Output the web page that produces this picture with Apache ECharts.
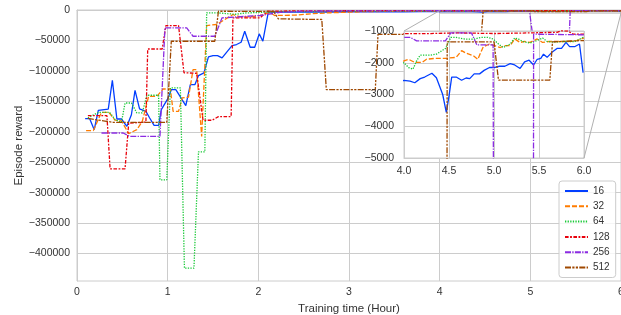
<!DOCTYPE html>
<html>
<head>
<meta charset="utf-8">
<script src="https://cdn.jsdelivr.net/npm/echarts@6/dist/echarts.min.js"></script>
<style>
  html, body { margin: 0; padding: 0; background: #fff; }
  #main { width: 621px; height: 315px; }
</style>
</head>
<body>
<div id="main"></div>
<script>
// batch sizes shown in the legend
const names = ['16', '32', '64', '128', '256', '512'];

// [training time (hour), episode reward]
const s16 = [[0.09,-178500],[0.14,-178500],[0.19,-196600],[0.235,-164800],[0.345,-162600],[0.39,-115500],[0.44,-179000],[0.49,-179000],[0.55,-191000],[0.6,-172000],[0.64,-132000],[0.69,-162500],[0.76,-166500],[0.8,-177000],[0.85,-189500],[0.9,-189500],[0.93,-163700],[1.0,-146000],[1.04,-130800],[1.09,-130800],[1.2,-157000],[1.25,-122600],[1.3,-122600],[1.34,-107700],[1.4,-103300],[1.45,-77000],[1.5,-74800],[1.55,-74800],[1.6,-78700],[1.71,-58400],[1.76,-56700],[1.81,-53000],[1.85,-34900],[1.91,-61200],[1.96,-61200],[2.01,-39200],[2.05,-51300],[2.11,-3600],[2.2,-3200],[2.4,-3400],[2.6,-3100],[2.8,-3300],[3.0,-2900],[3.2,-3000],[3.4,-2800],[3.6,-2900],[3.8,-2700],
  [4.0,-2555],[4.067,-2580],[4.12,-2630],[4.18,-2500],[4.23,-2450],[4.31,-2330],[4.36,-2470],[4.43,-3000],[4.47,-3560],[4.5,-3050],[4.53,-2450],[4.58,-2450],[4.64,-2550],[4.69,-2480],[4.73,-2500],[4.78,-2350],[4.84,-2350],[4.89,-2240],[4.95,-2150],[5.0,-2150],[5.06,-2110],[5.12,-2110],[5.18,-2030],[5.23,-2070],[5.29,-2180],[5.34,-1970],[5.39,-1920],[5.44,-2070],[5.48,-1890],[5.52,-1860],[5.55,-1730],[5.59,-1830],[5.64,-1680],[5.7,-1550],[5.75,-1550],[5.8,-1360],[5.84,-1490],[5.9,-1490],[5.95,-1410],[5.99,-2310]];
const s32 = [[0.1,-198000],[0.18,-198000],[0.27,-168000],[0.35,-168000],[0.42,-181000],[0.49,-182000],[0.57,-203000],[0.66,-196500],[0.72,-183000],[0.79,-141800],[0.88,-141800],[0.95,-129700],[1.03,-129700],[1.06,-166400],[1.12,-166400],[1.16,-144400],[1.23,-143000],[1.28,-97900],[1.32,-97900],[1.375,-207600],[1.43,-25500],[1.54,-23800],[1.6,-18400],[1.69,-10200],[1.72,-7400],[1.8,-11300],[1.91,-11300],[2.02,-9000],[2.13,-4600],[2.18,-9000],[2.4,-8500],[2.6,-6000],[2.8,-4500],[3.0,-3600],[3.2,-2500],[3.5,-2300],[3.8,-2100],
  [4.0,-1940],[4.05,-1890],[4.12,-1990],[4.2,-1990],[4.25,-1890],[4.35,-1860],[4.46,-1860],[4.58,-1830],[4.64,-1620],[4.69,-1700],[4.77,-1780],[4.82,-1890],[4.88,-1500],[4.95,-1410],[5.07,-1520],[5.12,-1460],[5.18,-1460],[5.23,-1250],[5.29,-1360],[5.34,-1330],[5.4,-1360],[5.48,-1250],[5.54,-1360],[5.61,-1330],[5.7,-1330],[5.8,-1330],[5.9,-1320],[6.0,-1220]];
const s64 = [[0.12,-177000],[0.24,-168000],[0.36,-168000],[0.42,-180000],[0.49,-184500],[0.53,-152700],[0.6,-152700],[0.66,-169000],[0.72,-169000],[0.77,-140000],[0.9,-140000],[0.915,-278800],[0.99,-278800],[1.03,-128000],[1.14,-128000],[1.185,-424000],[1.29,-424000],[1.34,-233000],[1.41,-233000],[1.43,-4600],[1.55,-4600],[1.65,-6000],[1.75,-7000],[1.85,-5000],[2.0,-4000],[2.2,-3000],[2.5,-2600],[2.8,-2400],[3.1,-2300],[3.4,-2200],[3.7,-2100],
  [4.0,-2000],[4.05,-2150],[4.1,-2200],[4.14,-1940],[4.18,-1760],[4.29,-1760],[4.36,-1730],[4.46,-1550],[4.52,-1200],[4.58,-1200],[4.66,-1250],[4.77,-1260],[4.86,-1200],[4.93,-1200],[4.99,-1250],[5.05,-1410],[5.1,-1520],[5.18,-1410],[5.23,-1220],[5.27,-1250],[5.32,-1330],[5.4,-1380],[5.48,-1300],[5.54,-1220],[5.59,-1330],[5.66,-1350],[5.77,-1330],[5.9,-1330],[6.0,-1190]];
const s128 = [[0.12,-173600],[0.33,-173600],[0.365,-260800],[0.53,-260800],[0.57,-186000],[0.76,-184000],[0.78,-64000],[0.94,-64000],[0.98,-25500],[1.12,-25500],[1.18,-103000],[1.32,-104000],[1.39,-181000],[1.49,-181000],[1.56,-175000],[1.7,-175000],[1.72,-13000],[2.02,-13000],[2.1,-2000],[2.4,-1500],[2.8,-1300],[3.2,-1200],[3.6,-1150],
  [4.0,-1080],[4.3,-1080],[4.6,-1060],[5.0,-1080],[5.4,-1060],[5.7,-1040],[5.75,-990],[5.82,-1000],[5.88,-1100],[6.0,-1100]];
const s256 = [[0.27,-202000],[0.51,-202000],[0.58,-207600],[0.915,-207600],[0.97,-29300],[1.21,-29300],[1.28,-43100],[1.52,-43100],[1.6,-12900],[1.75,-11500],[2.02,-9000],[2.24,-4000],[2.5,-1800],[3.0,-1500],[3.5,-1400],
  [4.0,-1200],[4.07,-1200],[4.14,-1310],[4.46,-1310],[4.52,-1060],[4.75,-1060],[4.81,-1440],[4.99,-1440],[5.06,-80000],[5.42,-80000],[5.44,-1100],[6.0,-1120]];
const s512 = [[0.12,-178000],[0.4,-184500],[0.99,-184500],[1.04,-51300],[1.52,-51300],[1.56,-2000],[2.17,-2500],[2.22,-14500],[2.7,-15600],[2.75,-130800],[3.29,-130800],[3.32,-40000],[4.46,-40000],[4.48,-1340],[5.0,-1340],[5.05,-2550],[5.62,-2550],[5.65,-1340],[6.0,-1300]];

const seriesData = [s16, s32, s64, s128, s256, s512];
const colors = ['#023eff', '#ff7c00', '#1ac938', '#e8000b', '#8b2be2', '#9f4800'];
const dashes = ['solid', [5, 2], [1.3, 1.3], [3.6, 1.5, 1.8, 1.5], [6, 1.3, 1.3, 1.3], [6, 1.3, 2.2, 1.3, 2.2, 1.3]];

const mainYTicks = [0, -50000, -100000, -150000, -200000, -250000, -300000, -350000, -400000];
const zoomBox = [[4, -1000], [6, -5000]];

const minus = v => (v < 0 ? '\u2212' + Math.abs(v) : String(v));
const grey = '#cccccc';
const txt = '#333';
const font = 'Liberation Sans, Arial, sans-serif';

const chart = echarts.init(document.getElementById('main'));

const series = [];
[0, 1].forEach(g => {
  names.forEach((n, i) => {
    const s = {
      type: 'line', name: n, data: seriesData[i],
      xAxisIndex: g, yAxisIndex: g,
      symbol: 'none', showSymbol: false, clip: true, silent: true,
      z: g ? 7 : 2,
      lineStyle: { color: colors[i], width: 1.3, type: dashes[i] },
      itemStyle: { color: colors[i] }
    };
    if (g === 0 && i === 0) {
      s.markArea = {
        silent: true,
        itemStyle: { color: 'rgba(0,0,0,0)', borderColor: '#b0b0b0', borderWidth: 1 },
        data: [[{ coord: zoomBox[0] }, { coord: zoomBox[1] }]]
      };
    }
    series.push(s);
  });
});

chart.setOption({
  animation: false,
  backgroundColor: '#fff',
  textStyle: { fontFamily: font },
  grid: [
    { left: 77, top: 10, right: 0, height: 271, outerBoundsMode: 'none', show: true, borderColor: grey, borderWidth: 1, backgroundColor: '#fff' },
    { left: 404, top: 31, width: 180, height: 127, outerBoundsMode: 'none', show: true, borderColor: grey, borderWidth: 1, backgroundColor: '#fff', z: 5 }
  ],
  xAxis: [
    {
      gridIndex: 0, type: 'value', min: 0, max: 6, interval: 1,
      name: 'Training time (Hour)', nameLocation: 'middle', nameGap: 19,
      nameTextStyle: { color: txt, fontSize: 11.5 },
      axisLine: { show: true, lineStyle: { color: grey } },
      axisTick: { show: false },
      axisLabel: { color: txt, fontSize: 10.5, margin: 6 },
      splitLine: { show: true, lineStyle: { color: grey, width: 1 } }
    },
    {
      gridIndex: 1, type: 'value', min: 4, max: 6, interval: 0.5, z: 6,
      axisLine: { show: true, lineStyle: { color: grey } },
      axisTick: { show: false },
      axisLabel: { color: txt, fontSize: 10.5, margin: 8, formatter: v => v.toFixed(1) },
      splitLine: { show: true, lineStyle: { color: grey, width: 1 } }
    }
  ],
  yAxis: [
    {
      gridIndex: 0, type: 'value', min: -445000, max: 0,
      name: 'Episode reward', nameLocation: 'middle', nameGap: 52, nameMoveOverlap: false,
      nameTextStyle: { color: txt, fontSize: 11.5 },
      axisLine: { show: true, lineStyle: { color: grey } },
      axisTick: { show: false, customValues: mainYTicks },
      axisLabel: { color: txt, fontSize: 10.5, margin: 7, customValues: mainYTicks, formatter: minus },
      splitLine: { show: true, lineStyle: { color: grey, width: 1 } }
    },
    {
      gridIndex: 1, type: 'value', min: -5000, max: -1000, interval: 1000, z: 6,
      axisLine: { show: true, lineStyle: { color: grey } },
      axisTick: { show: false },
      axisLabel: { color: txt, fontSize: 10.5, margin: 10, formatter: minus },
      splitLine: { show: true, lineStyle: { color: grey, width: 1 } }
    }
  ],
  legend: {
    data: names,
    orient: 'vertical',
    left: 559, top: 181,
    padding: [4, 6, 4, 5],
    itemWidth: 23, itemHeight: 12, itemGap: 3.3,
    itemStyle: { opacity: 0 },
    backgroundColor: 'rgba(255,255,255,0.8)',
    borderColor: grey, borderWidth: 1, borderRadius: 3,
    textStyle: { color: txt, fontSize: 10, lineHeight: 12 },
    z: 20
  },
  series: series
});

// connector lines between the inset and the zoomed box
const a1 = chart.convertToPixel({ gridIndex: 1 }, zoomBox[0]);
const a2 = chart.convertToPixel({ gridIndex: 0 }, zoomBox[0]);
const b1 = chart.convertToPixel({ gridIndex: 1 }, zoomBox[1]);
const b2 = chart.convertToPixel({ gridIndex: 0 }, zoomBox[1]);
chart.setOption({
  graphic: [
    { type: 'line', z: 8, silent: true, shape: { x1: a1[0], y1: a1[1], x2: a2[0], y2: a2[1] }, style: { stroke: '#b0b0b0', lineWidth: 1 } },
    { type: 'line', z: 8, silent: true, shape: { x1: b1[0], y1: b1[1], x2: b2[0], y2: b2[1] }, style: { stroke: '#b0b0b0', lineWidth: 1 } }
  ]
});
</script>
</body>
</html>
